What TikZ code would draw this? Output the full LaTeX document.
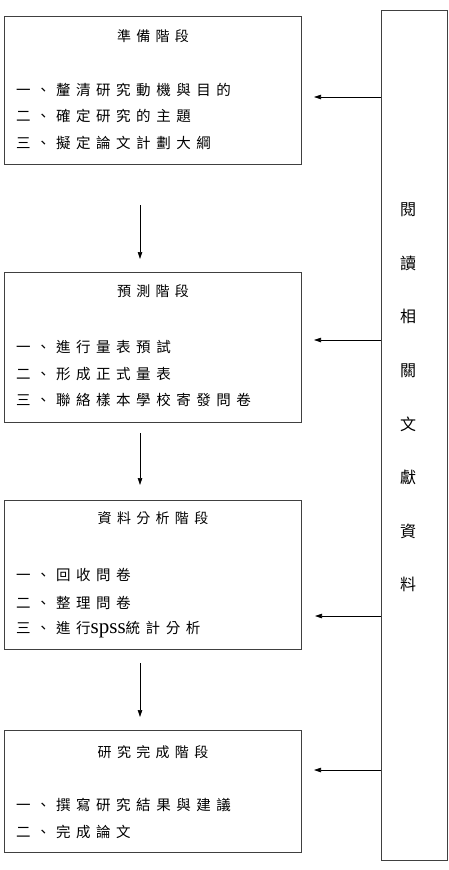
\documentclass[tikz,border=0pt]{standalone}
\usepackage{fontspec}
\newfontfamily\cjk[LetterSpace=38]{Noto Sans CJK TC}
\newfontfamily\cjkv{Noto Sans CJK TC}
\newfontfamily\lat{Liberation Serif}
\usetikzlibrary{arrows.meta}
\tikzset{
  stagebox/.style={draw=black!75, line width=0.9pt, rectangle, inner sep=0pt},
  titletext/.style={font={\cjk\fontsize{14}{16}\selectfont}, inner sep=0pt, anchor=center},
  itemtext/.style={font={\cjk\fontsize{14.5}{16}\selectfont}, inner sep=0pt, anchor=west},
  arr/.style={draw=black, line width=0.6pt, -{Triangle[length=7pt,width=4.5pt]}}
}
\begin{document}
\begin{tikzpicture}[x=1pt,y=-1pt]
\useasboundingbox[fill=white] (0,0) rectangle (449,870);
% stage boxes
\node[stagebox, minimum width=297pt, minimum height=148pt] (b1) at (152.5,90) {};
\node[stagebox, minimum width=297pt, minimum height=150pt] (b2) at (152.5,347) {};
\node[stagebox, minimum width=297pt, minimum height=149pt] (b3) at (152.5,574.5) {};
\node[stagebox, minimum width=297pt, minimum height=122pt] (b4) at (152.5,791) {};
% right box
\node[stagebox, minimum width=66pt, minimum height=850pt] (rb) at (414,435) {};
\node[font={\cjkv\fontsize{16}{53.6}\selectfont}, align=center, inner sep=0pt] (rt) at (408,397.5) {閱\\讀\\相\\關\\文\\獻\\資\\料};
% box 1
\node[titletext] (t1) at (153,36) {準備階段};
\node[itemtext] (i11) at (16,90) {一、釐清研究動機與目的};
\node[itemtext] (i12) at (16,116) {二、確定研究的主題};
\node[itemtext] (i13) at (16,143) {三、擬定論文計劃大綱};
% box 2
\node[titletext] (t2) at (153,291) {預測階段};
\node[itemtext] (i21) at (16,347) {一、進行量表預試};
\node[itemtext] (i22) at (16,374) {二、形成正式量表};
\node[itemtext] (i23) at (16,400) {三、聯絡樣本學校寄發問卷};
% box 3
\node[titletext] (t3) at (153,518) {資料分析階段};
\node[itemtext] (i31) at (16,575) {一、回收問卷};
\node[itemtext] (i32) at (16,603) {二、整理問卷};
\node[itemtext] (i33) at (16,630) {三、進行{\lat\fontsize{21}{16}\selectfont spss}統計分析};
% box 4
\node[titletext] (t4) at (153,752) {研究完成階段};
\node[itemtext] (i41) at (16,805) {一、撰寫研究結果與建議};
\node[itemtext] (i42) at (16,832) {二、完成論文};
% down arrows
\coordinate (d1s) at (140,205); \coordinate (d1e) at (140,259);
\coordinate (d2s) at (140,433); \coordinate (d2e) at (140,485);
\coordinate (d3s) at (140,663); \coordinate (d3e) at (140,717);
\draw[arr] (d1s) -- (d1e);
\draw[arr] (d2s) -- (d2e);
\draw[arr] (d3s) -- (d3e);
% left arrows from right box
\coordinate (a1) at (314,97);
\coordinate (a2) at (314,340);
\coordinate (a3) at (315,616);
\coordinate (a4) at (314,770);
\draw[arr] (a1 -| rb.west) -- (a1);
\draw[arr] (a2 -| rb.west) -- (a2);
\draw[arr] (a3 -| rb.west) -- (a3);
\draw[arr] (a4 -| rb.west) -- (a4);
\end{tikzpicture}
\end{document}
